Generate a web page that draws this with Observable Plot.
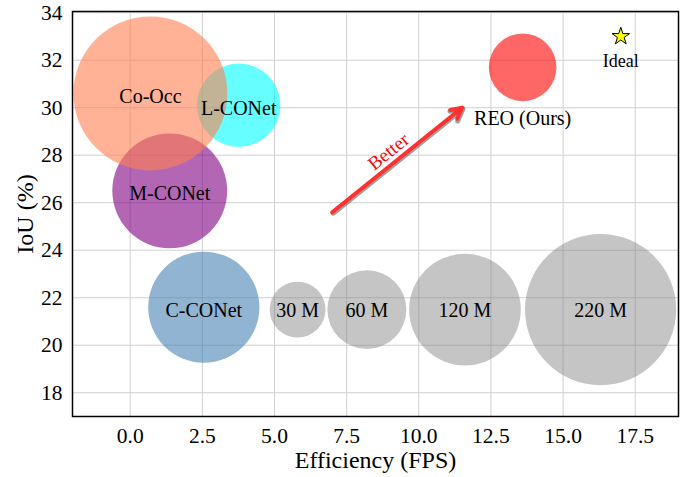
<!DOCTYPE html>
<html>
<head>
<meta charset="utf-8">
<script src="https://cdn.jsdelivr.net/npm/d3@7"></script>
<script src="https://cdn.jsdelivr.net/npm/@observablehq/plot@0.6"></script>
<style>
  html, body { margin: 0; padding: 0; background: #fff; }
</style>
</head>
<body>
<div id="chart"></div>
<script>
// Methods (bubble area ~ model size)
const methods = ["L-CONet", "M-CONet", "C-CONet", "Co-Occ", "REO (Ours)"];
const methodFps = [3.76, 1.37, 2.55, 0.7, 13.6];
const methodIoU = [30.1, 26.5, 21.6, 30.6, 31.7];
const methodSize = [67, 127, 119, 228, 44];
const methodColors = ["cyan", "purple", "steelblue", "coral", "red"];

// Reference size bubbles
const refLabels = ["30 M", "60 M", "120 M", "220 M"];
const refSize = [30, 60, 120, 220];
const refFps = [5.8, 8.2, 11.6, 16.3];
const refIoU = [21.5, 21.5, 21.5, 21.5];

// Ideal point
const idealLabel = ["Ideal"];
const idealFps = [17];
const idealIoU = [33];

// "Better" arrow
const arrowFrom = [7.0, 25.6];
const arrowTo = [11.5, 30.0];
const betterText = ["Better"];
const betterPos = [8.95, 28.15];

const xTicks = [0, 2.5, 5, 7.5, 10, 12.5, 15, 17.5];
const yTicks = [18, 20, 22, 24, 26, 28, 30, 32, 34];

const methodData = methods.map((m, i) => ({name: m, x: methodFps[i], y: methodIoU[i], s: methodSize[i], c: methodColors[i]}));
const refData = refLabels.map((m, i) => ({name: m, x: refFps[i], y: refIoU[i], s: refSize[i]}));
const idealData = idealLabel.map((m, i) => ({name: m, x: idealFps[i], y: idealIoU[i]}));
const arrowData = [{x1: arrowFrom[0], y1: arrowFrom[1], x2: arrowTo[0], y2: arrowTo[1]}];
const betterData = betterText.map(t => ({t, x: betterPos[0], y: betterPos[1]}));

const font = "'Liberation Serif', 'Times New Roman', serif";
const labeled = methodData.filter(d => d.name !== "REO (Ours)");
const reo = methodData.filter(d => d.name === "REO (Ours)");

const chart = Plot.plot({
  width: 688,
  height: 477,
  marginLeft: 72,
  marginRight: 10,
  marginTop: 11,
  marginBottom: 61,
  style: {fontFamily: font, fontSize: "21.5px", background: "#fff", color: "#000"},
  x: {domain: [-2, 19]},
  y: {domain: [17, 34.05]},
  r: {type: "sqrt", domain: [0, 220], range: [0, 75.6]},
  color: {type: "identity"},
  marks: [
    Plot.gridX(xTicks, {stroke: "#d0d0d0", strokeOpacity: 1, strokeWidth: 1}),
    Plot.gridY(yTicks, {stroke: "#d0d0d0", strokeOpacity: 1, strokeWidth: 1}),
    Plot.dot(refData, {x: "x", y: "y", r: "s", fill: "gray", fillOpacity: 0.46, sort: null}),
    Plot.dot(methodData, {x: "x", y: "y", r: "s", fill: "c", fillOpacity: 0.6, sort: null}),
    Plot.text(refData, {x: "x", y: "y", text: "name", fontSize: 20, dy: 1, fill: "#000"}),
    Plot.text(labeled, {x: "x", y: "y", text: "name", fontSize: 20, dy: 3, fill: "#000"}),
    Plot.text(reo, {x: "x", y: "y", text: "name", fontSize: 20, dy: 51, fill: "#000"}),
    Plot.dot(idealData, {x: "x", y: "y", symbol: "star", r: 5.5, fill: "yellow", stroke: "black", strokeWidth: 1}),
    Plot.text(idealData, {x: "x", y: "y", text: "name", fontSize: 18, dy: 25, fill: "#000"}),
    Plot.arrow(arrowData, {x1: "x1", y1: "y1", x2: "x2", y2: "y2", stroke: "#777", strokeWidth: 5, strokeOpacity: 0.7, headLength: 4, headAngle: 55, dx: 1, dy: 1}),
    Plot.arrow(arrowData, {x1: "x1", y1: "y1", x2: "x2", y2: "y2", stroke: "#ff3030", strokeWidth: 4, headLength: 4.5, headAngle: 55}),
    Plot.text(betterData, {x: "x", y: "y", text: "t", fill: "red", fontSize: 19, rotate: -39}),
    Plot.frame({stroke: "#000", strokeWidth: 1.5}),
    Plot.axisX(xTicks, {tickSize: 0, tickPadding: 11, tickFormat: d3.format(".1f"), label: null}),
    Plot.axisY(yTicks, {tickSize: 0, tickPadding: 10, tickFormat: d3.format("d"), label: null}),
    Plot.text(["Efficiency (FPS)"], {frameAnchor: "bottom", text: d => d, dy: 44, lineAnchor: "middle", textAnchor: "middle", fontSize: 24, fill: "#000"}),
    Plot.text(["IoU (%)"], {frameAnchor: "left", text: d => d, dx: -47, rotate: -90, lineAnchor: "middle", textAnchor: "middle", fontSize: 24, fill: "#000"})
  ]
});
document.getElementById("chart").appendChild(chart);
</script>
</body>
</html>
